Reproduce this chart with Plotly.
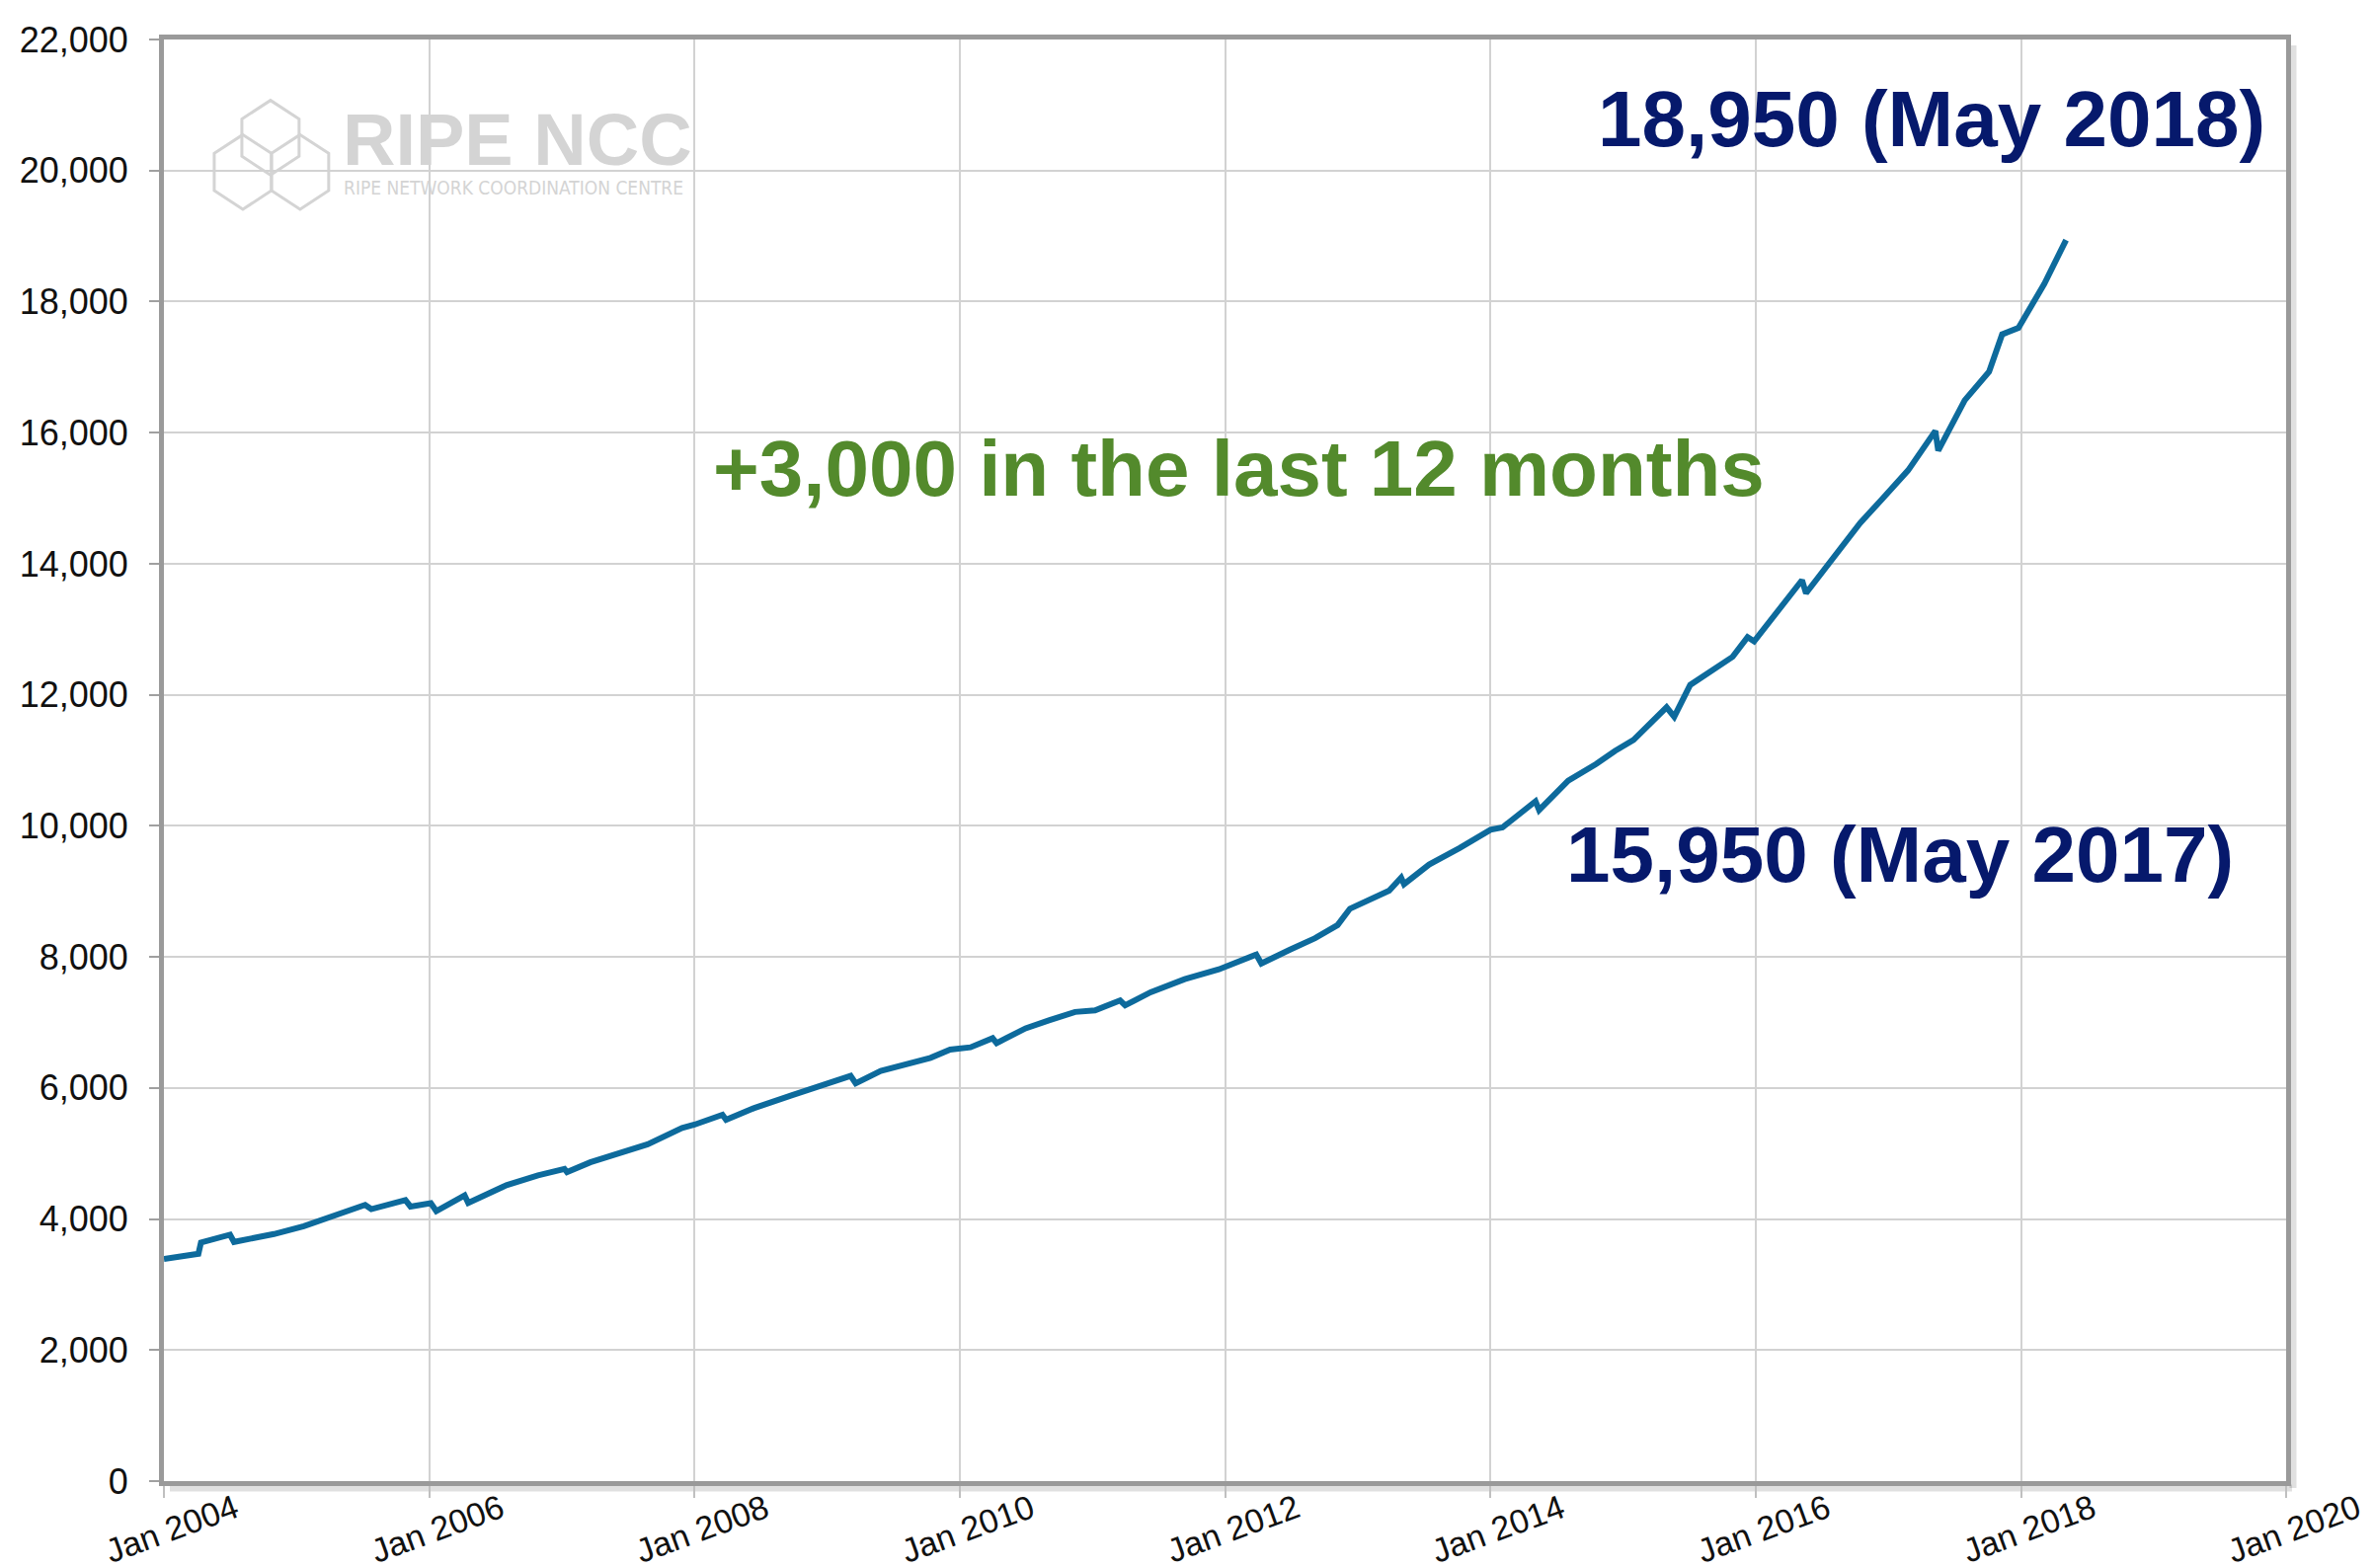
import plotly.graph_objects as go

# ---------------- data ----------------
dates = [
    "2004-01-01", "2004-04-05", "2004-04-12", "2004-07-01", "2004-07-12", "2004-10-30",
    "2005-01-20", "2005-07-08", "2005-07-25", "2005-10-27", "2005-11-10",
    "2006-01-05", "2006-01-20", "2006-04-08", "2006-04-18", "2006-08-01", "2006-10-27",
    "2007-01-08", "2007-01-15", "2007-03-20", "2007-08-25", "2007-11-28",
    "2008-01-01", "2008-03-18", "2008-03-28", "2008-06-12", "2008-09-24",
    "2009-01-10", "2009-03-06", "2009-03-20", "2009-05-28", "2009-10-12", "2009-12-05",
    "2010-01-30", "2010-04-01", "2010-04-12", "2010-07-01", "2010-09-05", "2010-11-14",
    "2011-01-08", "2011-03-18", "2011-04-01", "2011-06-10", "2011-09-12", "2011-12-15",
    "2012-03-27", "2012-04-10", "2012-06-28", "2012-09-05", "2012-11-06", "2012-12-10",
    "2013-03-28", "2013-04-30", "2013-05-08", "2013-07-16", "2013-10-08",
    "2014-01-01", "2014-02-03", "2014-05-05", "2014-05-15", "2014-08-03", "2014-10-19", "2014-12-10",
    "2015-01-30", "2015-05-01", "2015-05-22", "2015-07-05", "2015-10-30", "2015-12-10", "2015-12-28",
    "2016-02-14", "2016-05-08", "2016-05-19", "2016-08-10", "2016-10-15", "2016-12-15",
    "2017-02-24", "2017-05-10", "2017-05-18", "2017-07-30", "2017-10-05", "2017-11-10", "2017-12-25",
    "2018-03-06", "2018-05-05",
]
members = [
    3390, 3470, 3640, 3760, 3650, 3770,
    3890, 4215, 4150, 4290, 4190,
    4240, 4120, 4360, 4245, 4515, 4665,
    4765, 4715, 4865, 5140, 5390,
    5440, 5590, 5515, 5690, 5885,
    6070, 6185, 6070, 6260, 6460, 6585,
    6620, 6760, 6685, 6910, 7035, 7160,
    7185, 7335, 7260, 7460, 7660, 7810,
    8035, 7900, 8110, 8285, 8485, 8735,
    9010, 9210, 9110, 9410, 9660,
    9940, 9975, 10375, 10240, 10690, 10943, 11144,
    11310, 11810, 11665, 12150, 12580, 12880, 12815,
    13150, 13750, 13550, 14150, 14620, 14990,
    15425, 16027, 15725, 16495, 16930, 17500, 17600,
    18270, 18940,
]

x_tick_values = ["2004-01-01", "2006-01-01", "2008-01-01", "2010-01-01", "2012-01-01",
                 "2014-01-01", "2016-01-01", "2018-01-01", "2020-01-01"]
x_tick_labels = ["Jan 2004", "Jan 2006", "Jan 2008", "Jan 2010", "Jan 2012",
                 "Jan 2014", "Jan 2016", "Jan 2018", "Jan 2020"]
y_tick_values = [0, 2000, 4000, 6000, 8000, 10000, 12000, 14000, 16000, 18000, 20000, 22000]

label_top = "18,950 (May 2018)"
label_mid = "15,950 (May 2017)"
label_growth = "+3,000 in the last 12 months"

# ---------------- layout geometry (page pixels) ----------------
PAGE_OFF = 8                      # default body margin of the html page
FW, FH = 2404 - PAGE_OFF, 1588 - PAGE_OFF
L, R, T, B = 164, 2315, 31, 1500  # plot area in page pixels
W, H = R - L, B - T

def px(x):
    return (x - L) / W

def py(y):
    return (B - y) / H

FONT = "Liberation Sans, Arial, Helvetica, sans-serif"
LOGO = "#d4d4d4"

fig = go.Figure()
fig.add_trace(go.Scatter(
    x=dates, y=members, mode="lines",
    line=dict(color="#0d6a9c", width=6),
    hoverinfo="x+y", showlegend=False,
))

shapes = []
# frame shadow (bottom and right)
shapes.append(dict(type="line", xref="paper", yref="paper",
                   x0=px(L + 6), x1=px(R + 6), y0=py(B + 7), y1=py(B + 7),
                   line=dict(color="rgba(0,0,0,0.12)", width=7), layer="below"))
shapes.append(dict(type="line", xref="paper", yref="paper",
                   x0=px(R + 7), x1=px(R + 7), y0=py(T + 6), y1=py(B + 7),
                   line=dict(color="rgba(0,0,0,0.12)", width=7), layer="below"))

# logo hexagons
def hexagon(cx, cy, hw, hh):
    pts = [(cx, cy - hh), (cx + hw, cy - hh / 2), (cx + hw, cy + hh / 2),
           (cx, cy + hh), (cx - hw, cy + hh / 2), (cx - hw, cy - hh / 2)]
    d = "M " + " L ".join(f"{px(a):.5f},{py(b):.5f}" for a, b in pts) + " Z"
    return dict(type="path", xref="paper", yref="paper", path=d,
                line=dict(color=LOGO, width=3), layer="below")

shapes.append(hexagon(272, 131, 29, 38))
shapes.append(hexagon(244, 166, 29, 38))
shapes.append(hexagon(302, 166, 29, 38))

annotations = [
    dict(xref="paper", yref="paper", x=px(343), y=py(133), xanchor="left", yanchor="middle",
         text="<b>RIPE NCC</b>", showarrow=False,
         font=dict(family=FONT, size=74, color=LOGO)),
    dict(xref="paper", yref="paper", x=px(344), y=py(182), xanchor="left", yanchor="middle",
         text="RIPE NETWORK COORDINATION CENTRE", showarrow=False,
         font=dict(family="Liberation Sans Narrow, DejaVu Sans Condensed, Liberation Sans, sans-serif",
                   size=19, color=LOGO)),
    dict(xref="paper", yref="paper", x=px(1956), y=py(112), xanchor="center", yanchor="middle",
         text=f"<b>{label_top}</b>", showarrow=False,
         font=dict(family=FONT, size=80, color="#06196c")),
    dict(xref="paper", yref="paper", x=px(1924), y=py(862), xanchor="center", yanchor="middle",
         text=f"<b>{label_mid}</b>", showarrow=False,
         font=dict(family=FONT, size=80, color="#06196c")),
    dict(xref="paper", yref="paper", x=px(1254), y=py(468), xanchor="center", yanchor="middle",
         text=f"<b>{label_growth}</b>", showarrow=False,
         font=dict(family=FONT, size=80, color="#538a2c")),
]

for tv, tt in zip(x_tick_values, x_tick_labels):
    annotations.append(dict(xref="x", yref="paper", x=tv, y=0, xanchor="center", yanchor="top",
                            xshift=8, yshift=-4, textangle=-20, text=tt, showarrow=False,
                            font=dict(family=FONT, size=34, color="#111111")))

fig.update_layout(
    width=FW, height=FH, autosize=False,
    margin=dict(l=L - PAGE_OFF, r=FW + PAGE_OFF - R, t=T - PAGE_OFF, b=FH + PAGE_OFF - B),
    paper_bgcolor="white", plot_bgcolor="white",
    font=dict(family=FONT, size=36, color="#111111"),
    shapes=shapes, annotations=annotations,
    showlegend=False,
)
fig.update_xaxes(
    type="date", range=["2004-01-01", "2020-01-01"],
    tickvals=x_tick_values, ticktext=[""] * len(x_tick_values),
    showgrid=True, gridcolor="#d2d2d2", gridwidth=2,
    showline=True, linecolor="#9a9a9a", linewidth=5, mirror=True,
    ticks="outside", ticklen=12, tickcolor="#c0c0c0", tickwidth=2,
    zeroline=False,
)
fig.update_yaxes(
    range=[0, 22000], tickvals=y_tick_values, tickformat=",",
    showgrid=True, gridcolor="#d2d2d2", gridwidth=2,
    showline=True, linecolor="#9a9a9a", linewidth=5, mirror=True,
    ticks="outside", ticklen=10, tickcolor="#a0a0a0", tickwidth=2,
    ticklabelstandoff=14,
    tickfont=dict(family=FONT, size=36, color="#111111"),
    zeroline=False,
)

fig.write_html("out.html")
